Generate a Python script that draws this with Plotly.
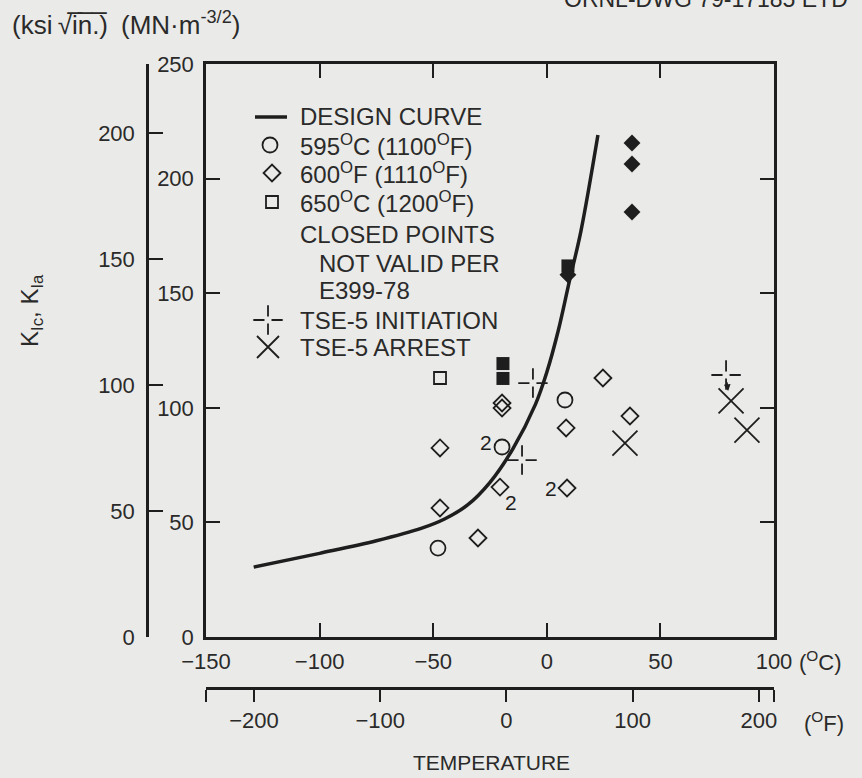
import plotly.graph_objects as go

# ---------------- data ----------------
design_T = [-129, -100, -75, -55, -45, -35, -25, -15, -5, 0, 5, 10, 15, 22.5]
design_K = [30.5, 36.5, 42, 47.5, 51.5, 57.5, 67.5, 82, 101.5, 115.5, 133.5, 155.5, 177, 219]

c595_T = [-19.7, -47.9, 8.0]
c595_K = [82.9, 38.8, 103.4]

f600_T = [-19.7, -19.7, -47.0, -20.6, -47.0, -30.3, 8.5, 8.9, 24.7, 36.6]
f600_K = [102.1, 99.9, 82.5, 65.4, 56.3, 43.2, 91.2, 65.0, 113.0, 96.4]

c650_T = [-47.0]
c650_K = [113.0]

closed_sq_T = [-19.3, -19.3, 9.3]
closed_sq_K = [119.3, 112.8, 161.9]

closed_dm_T = [9.3, 37.5, 37.5, 37.5]
closed_dm_K = [158.0, 215.5, 206.4, 185.4]

init_T = [-10.9, -6.1, 78.9]
init_K = [77.2, 110.8, 114.3]

arrest_T = [34.4, 81.1, 88.1]
arrest_K = [84.6, 103.0, 90.3]

# points carrying a "2" (duplicate) label
dup_T = [-19.7, -20.6, 8.9]
dup_K = [82.9, 65.4, 65.0]
dup_dx = [-16, 11, -16]
dup_dy = [4, -15, 0]

c_ticks = [-150, -100, -50, 0, 50, 100]
f_ticks = [-200, -100, 0, 100, 200]
mn_ticks = [0, 50, 100, 150, 200, 250]
ksi_ticks = [0, 50, 100, 150, 200]

legend_labels = ["DESIGN CURVE",
                 "595<sup>O</sup>C (1100<sup>O</sup>F)",
                 "600<sup>O</sup>F (1110<sup>O</sup>F)",
                 "650<sup>O</sup>C (1200<sup>O</sup>F)",
                 "CLOSED POINTS",
                 "NOT VALID PER",
                 "E399-78",
                 "TSE-5 INITIATION",
                 "TSE-5 ARREST"]

KSI_PER_MN = 1 / 1.0988

# ---------------- style / layout (pixels) ----------------
W, H = 862, 778
BG = "#eaeae8"
INK = "#1e1e1e"
TXT = "#2a2a2a"
FONT = "Liberation Sans, Arial, sans-serif"
TICK_FS = 22

LEG_TEXT_X = [298, 298, 298, 298, 298, 317, 317, 298, 298]
LEG_TEXT_Y = [117, 145, 173, 202, 235, 263, 290, 320, 347]
LEG_KEY_X = 270
LEG_FS = 24


def px_x(p):
    return p / W


def px_y(p):
    return 1 - p / H


def mk(symbol, size, filled=False, color=INK, lw=1.8):
    if filled:
        return dict(symbol=symbol, size=size, color=color, line=dict(width=0, color=color))
    return dict(symbol=symbol, size=size, color=color, line=dict(width=lw, color=color))


def st_circle():
    return mk("circle-open", 15)


def st_diamond():
    return mk("diamond-open", 13)


def st_square():
    return mk("square-open", 12)


def st_init():
    return mk("cross-thin-open", 21)


def st_gap():
    return mk("square", 7, filled=True, color=BG)


def st_arrest():
    return mk("x-thin-open", 25)


fig = go.Figure()

fig.add_trace(go.Scatter(x=design_T, y=design_K, mode="lines", name="DESIGN CURVE",
                         line=dict(color=INK, width=3.5, shape="spline", smoothing=1.0)))
fig.add_trace(go.Scatter(x=c595_T, y=c595_K, mode="markers", marker=st_circle(), name="595C"))
fig.add_trace(go.Scatter(x=f600_T, y=f600_K, mode="markers", marker=st_diamond(), name="600F"))
fig.add_trace(go.Scatter(x=c650_T, y=c650_K, mode="markers", marker=st_square(), name="650C"))
fig.add_trace(go.Scatter(x=init_T, y=init_K, mode="markers", marker=st_init(), name="TSE-5 INITIATION"))
fig.add_trace(go.Scatter(x=init_T, y=init_K, mode="markers", marker=st_gap(), hoverinfo="skip"))
fig.add_trace(go.Scatter(x=arrest_T, y=arrest_K, mode="markers", marker=st_arrest(), name="TSE-5 ARREST"))
fig.add_trace(go.Scatter(x=closed_sq_T, y=closed_sq_K, mode="markers", name="closed squares",
                         marker=mk("square", 13, filled=True)))
fig.add_trace(go.Scatter(x=closed_dm_T, y=closed_dm_K, mode="markers", name="closed diamonds",
                         marker=mk("diamond", 13, filled=True)))

# activate secondary (ksi) and Fahrenheit axes
fig.add_trace(go.Scatter(x=[None], y=[None], yaxis="y2", hoverinfo="skip"))
fig.add_trace(go.Scatter(x=[None], y=[None], xaxis="x2", hoverinfo="skip"))

# ---- hand-made legend keys on a pixel-space overlay axis ----
key_y = {"line": LEG_TEXT_Y[0], "circle": LEG_TEXT_Y[1], "diamond": LEG_TEXT_Y[2],
         "square": LEG_TEXT_Y[3], "init": LEG_TEXT_Y[7], "arrest": LEG_TEXT_Y[8]}
fig.add_trace(go.Scatter(x=[LEG_KEY_X - 15, LEG_KEY_X + 17], y=[key_y["line"]] * 2, xaxis="x3", yaxis="y3",
                         mode="lines", line=dict(color=INK, width=3.5), hoverinfo="skip"))
fig.add_trace(go.Scatter(x=[LEG_KEY_X], y=[key_y["circle"]], xaxis="x3", yaxis="y3", mode="markers",
                         marker=st_circle(), hoverinfo="skip"))
fig.add_trace(go.Scatter(x=[LEG_KEY_X + 2], y=[key_y["diamond"]], xaxis="x3", yaxis="y3", mode="markers",
                         marker=st_diamond(), hoverinfo="skip"))
fig.add_trace(go.Scatter(x=[LEG_KEY_X + 2], y=[key_y["square"]], xaxis="x3", yaxis="y3", mode="markers",
                         marker=st_square(), hoverinfo="skip"))
fig.add_trace(go.Scatter(x=[LEG_KEY_X - 2], y=[key_y["init"]], xaxis="x3", yaxis="y3", mode="markers",
                         marker=st_init(), hoverinfo="skip"))
fig.add_trace(go.Scatter(x=[LEG_KEY_X - 2], y=[key_y["init"]], xaxis="x3", yaxis="y3", mode="markers",
                         marker=st_gap(), hoverinfo="skip"))
fig.add_trace(go.Scatter(x=[LEG_KEY_X - 2], y=[key_y["arrest"]], xaxis="x3", yaxis="y3", mode="markers",
                         marker=mk("x-thin-open", 22), hoverinfo="skip"))

x_dom = [px_x(206), px_x(774)]
y_dom = [px_y(637), px_y(64)]

axis_common = dict(showgrid=False, zeroline=False, showline=True, linecolor=INK, linewidth=2.5,
                   tickcolor=INK, tickwidth=2, automargin=False,
                   tickfont=dict(family=FONT, size=TICK_FS, color=TXT))

f_range = [-150 * 1.8 + 32, 100 * 1.8 + 32]

fig.update_layout(
    width=W, height=H,
    margin=dict(l=0, r=0, t=0, b=0, pad=0, autoexpand=False),
    paper_bgcolor=BG, plot_bgcolor="rgba(0,0,0,0)",
    font=dict(family=FONT, size=21, color=TXT),
    showlegend=False,
    xaxis=dict(domain=x_dom, range=[-150, 100], anchor="y",
               tickvals=c_ticks, ticktext=[str(v).replace("-", "\u2212") for v in c_ticks],
               ticks="inside", ticklen=14, mirror="ticks", ticklabelstandoff=3, **axis_common),
    yaxis=dict(domain=y_dom, range=[0, 250], anchor="x",
               tickvals=mn_ticks, ticktext=[str(v) for v in mn_ticks],
               ticks="inside", ticklen=14, mirror="ticks", ticklabelstandoff=5, **axis_common),
    yaxis2=dict(overlaying="y", anchor="free", position=px_x(147), side="left",
                range=[0, 250 * KSI_PER_MN],
                tickvals=ksi_ticks + [250 * KSI_PER_MN],
                ticktext=[str(v) for v in ksi_ticks] + [""],
                ticks="inside", ticklen=14, ticklabelstandoff=7, **axis_common),
    xaxis2=dict(overlaying="x", anchor="free", position=px_y(688), side="bottom",
                range=f_range,
                tickvals=[f_range[0]] + f_ticks + [f_range[1]],
                ticktext=[""] + [str(v).replace("-", "\u2212") for v in f_ticks] + [""],
                ticks="outside", ticklen=12, **axis_common),
    xaxis3=dict(domain=[0, 1], range=[0, W], visible=False, anchor="y3", fixedrange=True),
    yaxis3=dict(domain=[0, 1], range=[H, 0], visible=False, anchor="x3", fixedrange=True),
)

ann = []
for t, k, dx, dy in zip(dup_T, dup_K, dup_dx, dup_dy):
    ann.append(dict(x=t, y=k, xref="x", yref="y", text="2", showarrow=False,
                    xshift=dx, yshift=dy, font=dict(family=FONT, size=21, color=INK)))
# short arrow: initiation -> arrest (right-hand TSE-5 pair)
ann.append(dict(x=arrest_T[1] - 1.3, y=arrest_K[1] + 4.3, ax=init_T[2] + 0.3, ay=init_K[2] - 2.5,
                xref="x", yref="y", axref="x", ayref="y", text="", showarrow=True,
                arrowhead=2, arrowsize=0.9, arrowwidth=1.5, arrowcolor=INK))
# legend text
for txt, lx, ly in zip(legend_labels, LEG_TEXT_X, LEG_TEXT_Y):
    ann.append(dict(x=px_x(lx), y=px_y(ly), xref="paper", yref="paper", xanchor="left", yanchor="middle",
                    text=txt, showarrow=False, font=dict(family=FONT, size=LEG_FS, color=TXT)))
# unit labels
ann.append(dict(x=px_x(797), y=px_y(661), xref="paper", yref="paper", xanchor="left", yanchor="middle",
                text="(<sup>O</sup>C)", showarrow=False, font=dict(family=FONT, size=TICK_FS, color=TXT)))
ann.append(dict(x=px_x(802), y=px_y(722), xref="paper", yref="paper", xanchor="left", yanchor="middle",
                text="(<sup>O</sup>F)", showarrow=False, font=dict(family=FONT, size=TICK_FS, color=TXT)))
ann.append(dict(x=px_x(491), y=px_y(762), xref="paper", yref="paper", xanchor="center", yanchor="middle",
                text="TEMPERATURE", showarrow=False, font=dict(family=FONT, size=21, color=TXT)))
ann.append(dict(x=px_x(31), y=px_y(311), xref="paper", yref="paper", xanchor="center", yanchor="middle",
                text="K<sub>Ic</sub>, K<sub>Ia</sub>", textangle=-90, showarrow=False,
                font=dict(family=FONT, size=24, color=TXT)))
ann.append(dict(x=px_x(10), y=px_y(23), xref="paper", yref="paper", xanchor="left", yanchor="middle",
                text="(ksi\u2009\u221ai\u0305n\u0305.\u0305)\u2002(MN\u00b7m<sup>-3/2</sup>)", showarrow=False,
                font=dict(family=FONT, size=26, color=TXT)))
ann.append(dict(x=px_x(562), y=px_y(-1), xref="paper", yref="paper", xanchor="left", yanchor="middle",
                text="ORNL-DWG 79-17185 ETD", showarrow=False,
                font=dict(family=FONT, size=23, color=TXT)))
fig.update_layout(annotations=ann)

fig.write_html("out.html")
